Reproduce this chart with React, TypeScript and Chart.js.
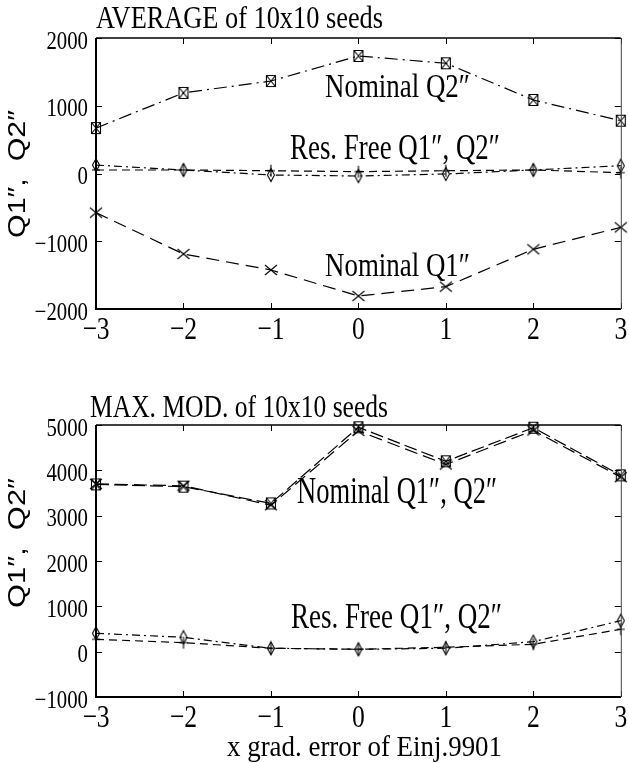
import React, { useEffect, useRef } from "react";
import { Chart, registerables } from "chart.js";
Chart.register(...registerables);

// ---------- data ----------
const xValues = [-3, -2, -1, 0, 1, 2, 3];
const xTickValues = [-3, -2, -1, 0, 1, 2, 3];
const avgYTickValues = [-2000, -1000, 0, 1000, 2000];
const maxYTickValues = [-1000, 0, 1000, 2000, 3000, 4000, 5000];

// AVERAGE of 10x10 seeds
const avgNominalQ2 = [670, 1190, 1365, 1735, 1627, 1085, 779];
const avgNominalQ1 = [-578, -1188, -1424, -1808, -1670, -1119, -795];
const avgResFreeQ2 = [125, 52, -22, -37, -7, 52, 115];
const avgResFreeQ1 = [52, 52, 41, 27, 41, 52, 12];

// MAX. MOD. of 10x10 seeds
const maxNominalQ1 = [3700, 3660, 3230, 4870, 4130, 4880, 3850];
const maxNominalQ2 = [3690, 3640, 3270, 4950, 4200, 4940, 3890];
const maxResFreeQ2 = [405, 317, 75, 53, 75, 220, 684];
const maxResFreeQ1 = [273, 200, 75, 53, 97, 163, 494];

// ---------- texts ----------
const avgTitle = "AVERAGE of 10x10 seeds";
const maxTitle = "MAX. MOD. of 10x10 seeds";
const yTitle = "Q1\u2033,  Q2\u2033";
const xTitle = "x grad. error of Einj.9901";
const lblNominalQ2 = "Nominal Q2\u2033";
const lblNominalQ1 = "Nominal Q1\u2033";
const lblNominalBoth = "Nominal Q1\u2033, Q2\u2033";
const lblResFree = "Res. Free Q1\u2033, Q2\u2033";

const SERIF = "'Liberation Serif', 'DejaVu Serif', serif";
const SANS = "'Liberation Sans', 'DejaVu Sans', sans-serif";

type TextItem = { text: string; x: number; y: number; width: number; size: number; family: string; rotate?: boolean };

function makeMarker(kind: string): HTMLCanvasElement {
  const c = document.createElement("canvas");
  c.width = 16;
  c.height = 16;
  const g = c.getContext("2d")!;
  g.strokeStyle = "#000";
  g.lineWidth = 1.1;
  g.beginPath();
  if (kind === "squareX") {
    g.rect(3.5, 2.5, 9, 11);
    g.moveTo(3.5, 2.5);
    g.lineTo(12.5, 13.5);
    g.moveTo(12.5, 2.5);
    g.lineTo(3.5, 13.5);
  } else if (kind === "diamond") {
    g.moveTo(8, 1.5);
    g.lineTo(11.5, 8);
    g.lineTo(8, 14.5);
    g.lineTo(4.5, 8);
    g.closePath();
  } else if (kind === "plus") {
    g.moveTo(8, 2);
    g.lineTo(8, 14);
    g.moveTo(4, 8);
    g.lineTo(12, 8);
  } else if (kind === "x") {
    g.moveTo(2, 3);
    g.lineTo(14, 13);
    g.moveTo(14, 3);
    g.lineTo(2, 13);
  }
  g.stroke();
  return c;
}

const fmt = (v: any) => String(v).replace("-", "\u2212");
const COND = 0.8;

const framePlugin = {
  id: "frame",
  afterDraw(chart: any, _args: any, opts: any) {
    const { ctx, chartArea: a, scales } = chart;
    ctx.save();
    ctx.strokeStyle = "#000";
    // inward ticks
    ctx.lineWidth = 1;
    const tl = 6;
    ctx.beginPath();
    for (const t of scales.x.ticks) {
      const px = Math.round(scales.x.getPixelForValue(t.value)) + 0.5;
      ctx.moveTo(px, a.bottom);
      ctx.lineTo(px, a.bottom - tl);
      ctx.moveTo(px, a.top);
      ctx.lineTo(px, a.top + tl);
    }
    for (const t of scales.y.ticks) {
      const py = Math.round(scales.y.getPixelForValue(t.value)) + 0.5;
      ctx.moveTo(a.left, py);
      ctx.lineTo(a.left + tl, py);
      ctx.moveTo(a.right, py);
      ctx.lineTo(a.right - tl, py);
    }
    ctx.stroke();
    // frame
    ctx.lineWidth = 2;
    ctx.beginPath();
    ctx.moveTo(a.left, a.top);
    ctx.lineTo(a.left, a.bottom);
    ctx.lineTo(a.right, a.bottom);
    ctx.stroke();
    ctx.lineWidth = 1.5;
    ctx.beginPath();
    ctx.moveTo(a.left, a.top);
    ctx.lineTo(a.right, a.top);
    ctx.stroke();
    ctx.lineWidth = 1;
    ctx.strokeStyle = "#444";
    ctx.beginPath();
    ctx.moveTo(a.right + 0.5, a.top);
    ctx.lineTo(a.right + 0.5, a.bottom);
    ctx.stroke();

    ctx.fillStyle = "#000";
    // tick labels (condensed serif)
    ctx.textBaseline = "alphabetic";
    for (const t of scales.y.ticks) {
      const py = scales.y.getPixelForValue(t.value);
      ctx.save();
      ctx.font = `26px ${SERIF}`;
      ctx.translate(a.left - 8, py + 10.5);
      ctx.scale(COND, 1);
      ctx.textAlign = "right";
      ctx.fillText(fmt(t.value), 0, 0);
      ctx.restore();
    }
    for (const t of scales.x.ticks) {
      const px = scales.x.getPixelForValue(t.value);
      ctx.save();
      ctx.font = `32px ${SERIF}`;
      ctx.translate(px, a.bottom + 29.5);
      ctx.scale(COND, 1);
      ctx.textAlign = "center";
      ctx.fillText(fmt(t.value), 0, 0);
      ctx.restore();
    }
    // texts
    for (const t of (opts.texts || []) as TextItem[]) {
      ctx.save();
      ctx.font = `${t.size}px ${t.family}`;
      const w = ctx.measureText(t.text).width;
      ctx.translate(t.x, t.y);
      if (t.rotate) ctx.rotate(-Math.PI / 2);
      ctx.scale(t.width / w, 1);
      ctx.textAlign = "left";
      ctx.textBaseline = "alphabetic";
      ctx.fillText(t.text, 0, 0);
      ctx.restore();
    }
    ctx.restore();
  },
};

function series(values: number[], marker: HTMLCanvasElement, dash: number[]) {
  return {
    data: xValues.map((x, i) => ({ x, y: values[i] })),
    borderColor: "#000",
    backgroundColor: "#000",
    borderWidth: 1.2,
    borderDash: dash,
    pointStyle: marker,
    pointRadius: 7,
    fill: false,
    tension: 0,
    clip: false,
  };
}

function buildOptions(yTicks: number[], padTop: number, xHeight: number, texts: TextItem[]) {
  return {
    responsive: false,
    animation: false,
    layout: { padding: { top: padTop, right: 4, left: 0, bottom: 0 } },
    plugins: { legend: { display: false }, tooltip: { enabled: false }, frame: { texts } },
    scales: {
      x: {
        type: "linear",
        min: -3,
        max: 3,
        afterBuildTicks: (s: any) => {
          s.ticks = xTickValues.map((v) => ({ value: v }));
        },
        afterFit: (s: any) => {
          s.height = xHeight;
          s.paddingLeft = 0;
          s.paddingRight = 0;
        },
        grid: { display: false, drawTicks: false },
        border: { display: false },
        ticks: { display: false },
      },
      y: {
        type: "linear",
        min: yTicks[0],
        max: yTicks[yTicks.length - 1],
        afterBuildTicks: (s: any) => {
          s.ticks = yTicks.map((v) => ({ value: v }));
        },
        afterFit: (s: any) => {
          s.width = 96;
          s.paddingTop = 0;
          s.paddingBottom = 0;
        },
        grid: { display: false, drawTicks: false },
        border: { display: false },
        ticks: { display: false },
      },
    },
  };
}

export default function App() {
  const topRef = useRef<HTMLCanvasElement>(null);
  const botRef = useRef<HTMLCanvasElement>(null);

  useEffect(() => {
    const sq = makeMarker("squareX");
    const di = makeMarker("diamond");
    const pl = makeMarker("plus");
    const xx = makeMarker("x");

    const topTexts: TextItem[] = [
      { text: avgTitle, x: 96, y: 28, width: 287, size: 32, family: SERIF },
      { text: lblNominalQ2, x: 325, y: 97, width: 145, size: 33, family: SERIF },
      { text: lblResFree, x: 290, y: 159, width: 210, size: 35, family: SERIF },
      { text: lblNominalQ1, x: 325, y: 276, width: 145, size: 33, family: SERIF },
      { text: yTitle, x: 25, y: 238, width: 128, size: 23, family: SANS, rotate: true },
    ];
    const botTexts: TextItem[] = [
      { text: maxTitle, x: 90, y: 47, width: 298, size: 32, family: SERIF },
      { text: lblNominalBoth, x: 297, y: 133, width: 200, size: 37, family: SERIF },
      { text: lblResFree, x: 291, y: 258, width: 211, size: 35, family: SERIF },
      { text: xTitle, x: 227, y: 386, width: 275, size: 29, family: SERIF },
      { text: yTitle, x: 25, y: 238, width: 130, size: 23, family: SANS, rotate: true },
    ];

    const c1 = new Chart(topRef.current!, {
      type: "line",
      data: {
        datasets: [
          series(avgNominalQ2, sq, [13, 5, 2, 5]),
          series(avgNominalQ1, xx, [13, 7]),
          series(avgResFreeQ2, di, [8, 4, 2, 4]),
          series(avgResFreeQ1, pl, [8, 5]),
        ],
      },
      options: buildOptions(avgYTickValues, 38, 61, topTexts) as any,
      plugins: [framePlugin],
    });
    const c2 = new Chart(botRef.current!, {
      type: "line",
      data: {
        datasets: [
          series(maxNominalQ2, sq, [13, 5]),
          series(maxNominalQ1, xx, [13, 6]),
          series(maxResFreeQ2, di, [8, 4, 2, 4]),
          series(maxResFreeQ1, pl, [8, 5]),
        ],
      },
      options: buildOptions(maxYTickValues, 55, 66, botTexts) as any,
      plugins: [framePlugin],
    });
    return () => {
      c1.destroy();
      c2.destroy();
    };
  }, []);

  return (
    <div style={{ position: "absolute", left: 0, top: 0, width: 629, height: 763, background: "#fff", overflow: "hidden" }}>
      <canvas ref={topRef} width={629} height={370} style={{ position: "absolute", left: 0, top: 0, display: "block" }} />
      <canvas ref={botRef} width={629} height={393} style={{ position: "absolute", left: 0, top: 370, display: "block" }} />
    </div>
  );
}
